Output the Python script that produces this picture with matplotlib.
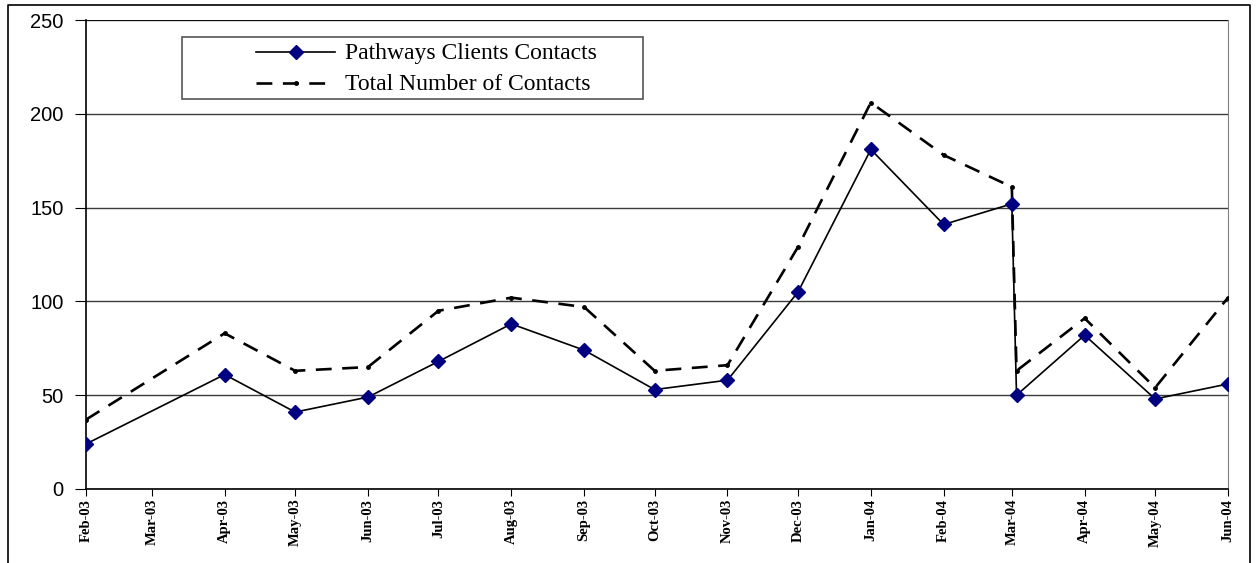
import pandas as pd
import matplotlib
matplotlib.use('Agg')
import matplotlib.pyplot as plt
import matplotlib.dates as mdates
from matplotlib.lines import Line2D
from matplotlib.patches import Rectangle

# data
dates = ['2003-02-01', '2003-04-01', '2003-05-01', '2003-06-01', '2003-07-01',
         '2003-08-01', '2003-09-01', '2003-10-01', '2003-11-01', '2003-12-01',
         '2004-01-01', '2004-02-01', '2004-03-01', '2004-03-03', '2004-04-01',
         '2004-05-01', '2004-06-01']
pathways = [24, 61, 41, 49, 68, 88, 74, 53, 58, 105, 181, 141, 152, 50, 82, 48, 56]
total = [37, 83, 63, 65, 95, 102, 97, 63, 66, 129, 206, 178, 161, 63, 91, 54, 102]
series_names = ['Pathways Clients Contacts', 'Total Number of Contacts']

x = pd.to_datetime(dates)

W, H = 1257, 563
fig = plt.figure(figsize=(W / 100, H / 100), dpi=100)
ax = fig.add_axes([86 / W, 1 - 489 / H, (1228 - 86) / W, (489 - 20) / H])

ax.plot(x, pathways, color='black', lw=1.2, marker='D', markersize=7.5,
        markerfacecolor='#000080', markeredgecolor='#000080', zorder=4)
ax.plot(x, total, color='black', lw=1.9, ls=(0, (6, 4)), marker='.',
        markersize=5, zorder=3)

ax.set_ylim(0, 250)
ax.set_yticks(range(0, 251, 50))
ax.set_xlim(pd.Timestamp('2003-02-01'), pd.Timestamp('2004-06-01'))
ax.xaxis.set_major_locator(mdates.MonthLocator())
ax.xaxis.set_major_formatter(mdates.DateFormatter('%b-%y'))

ax.yaxis.grid(True, color='#3c3c3c', lw=1)
ax.set_axisbelow(True)
for s in ['left', 'bottom']:
    ax.spines[s].set_color('black')
    ax.spines[s].set_linewidth(1.2)
ax.spines['top'].set_visible(False)
ax.spines['right'].set_color('#808080')
ax.axhline(250, color='black', lw=1.2, zorder=1)

ax.tick_params(axis='y', direction='out', length=8, pad=8, labelsize=14.5)
for lbl in ax.get_yticklabels():
    lbl.set_family('Liberation Sans')
ax.tick_params(axis='x', direction='out', length=5, pad=2)
for lbl in ax.get_xticklabels():
    lbl.set_family('Liberation Serif')
    lbl.set_fontsize(10.5)
    lbl.set_fontweight('bold')
    lbl.set_rotation(90)
    lbl.set_va('top')
    lbl.set_ha('center')

# legend box drawn in figure pixels
def fx(px):
    return px / W

def fy(py):
    return 1 - py / H

fig.add_artist(Rectangle((fx(182), fy(99)), fx(643) - fx(182), fy(37) - fy(99),
                         transform=fig.transFigure, fill=False,
                         edgecolor='#555555', lw=1.2))
fig.add_artist(Line2D([fx(256), fx(335)], [fy(52), fy(52)], transform=fig.transFigure,
                      color='black', lw=1.2))
fig.add_artist(Line2D([fx(296)], [fy(52)], transform=fig.transFigure, marker='D',
                      markersize=7.5, color='#000080'))
fig.add_artist(Line2D([fx(256), fx(335)], [fy(83), fy(83)], transform=fig.transFigure,
                      color='black', lw=1.9, ls=(0, (6, 4))))
fig.add_artist(Line2D([fx(296)], [fy(83)], transform=fig.transFigure, marker='.',
                      markersize=5, color='black'))
fig.text(fx(345), fy(53), series_names[0], family='Liberation Serif', fontsize=17,
         va='center', ha='left')
fig.text(fx(345), fy(84), series_names[1], family='Liberation Serif', fontsize=17,
         va='center', ha='left')

# outer chart frame
fig.add_artist(Line2D([fx(8), fx(8), fx(1250), fx(1250)], [0, fy(5), fy(5), 0],
                      transform=fig.transFigure, color='black', lw=1.2))

fig.savefig('out.png', dpi=100)
